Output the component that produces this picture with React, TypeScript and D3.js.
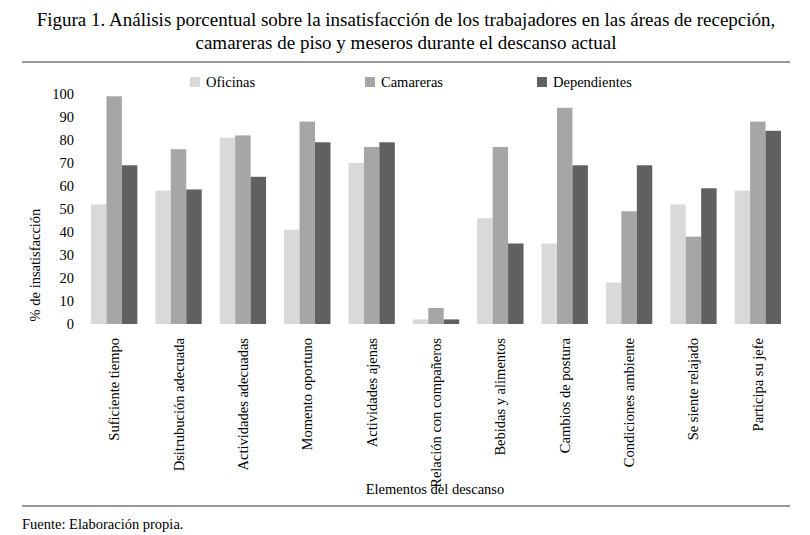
import React from 'react';
import * as d3 from 'd3';

const categories = ['Suficiente tiempo', 'Dsitrubución adecuada', 'Actividades adecuadas', 'Momento oportuno', 'Actividades ajenas', 'Relación con compañeros', 'Bebidas y alimentos', 'Cambios de postura', 'Condiciones ambiente', 'Se siente relajado', 'Participa su jefe'];
const seriesNames = ['Oficinas', 'Camareras', 'Dependientes'];
const oficinas = [52, 58, 81, 41, 70, 2, 46, 35, 18, 52, 58];
const camareras = [99, 76, 82, 88, 77, 7, 77, 94, 49, 38, 88];
const dependientes = [69, 58.5, 64, 79, 79, 2, 35, 69, 69, 59, 84];
const yTicks = [0, 10, 20, 30, 40, 50, 60, 70, 80, 90, 100];
const colors = ['#d9d9d9', '#a6a6a6', '#606060'];

export default function App() {
  const series = [oficinas, camareras, dependientes];
  const x = d3.scaleBand().domain(categories).range([82, 790]).paddingInner(0.28).paddingOuter(0.14);
  const xs = d3.scaleBand().domain(seriesNames).range([0, x.bandwidth()]);
  const y = d3.scaleLinear().domain([0, 100]).range([324, 94]);
  const font = '"Liberation Serif", "Times New Roman", serif';
  const fs = 14.5;
  const legendX = [190, 365, 537];
  return (
    <svg width={810} height={535} style={{ position: 'absolute', left: 0, top: 0, fontFamily: font }}>
      <rect width={810} height={535} fill="#fff" />
      <text x={406} y={26} textAnchor="middle" fontSize={19}>Figura 1. Análisis porcentual sobre la insatisfacción de los trabajadores en las áreas de recepción,</text>
      <text x={406} y={49} textAnchor="middle" fontSize={19}>camareras de piso y meseros durante el descanso actual</text>
      <line x1={22} x2={790} y1={62} y2={62} stroke="#333" />
      {seriesNames.map((s, i) => (
        <g key={s}>
          <rect x={legendX[i]} y={77} width={10} height={10} fill={colors[i]} />
          <text x={legendX[i] + 16} y={87} fontSize={fs}>{s}</text>
        </g>
      ))}
      {yTicks.map(t => (
        <text key={t} x={74} y={y(t) + 5} textAnchor="end" fontSize={fs}>{t}</text>
      ))}
      {categories.map((c, ci) => (
        <g key={c}>
          {series.map((vals, si) => (
            <rect key={si} x={(x(c) ?? 0) + (xs(seriesNames[si]) ?? 0)} y={y(vals[ci])} width={xs.bandwidth()} height={y(0) - y(vals[ci])} fill={colors[si]} />
          ))}
          <text transform={`translate(${(x(c) ?? 0) + x.bandwidth() / 2 + 5},338) rotate(-90)`} textAnchor="end" fontSize={fs}>{c}</text>
        </g>
      ))}
      <text transform="translate(40,265) rotate(-90)" textAnchor="middle" fontSize={fs}>% de insatisfacción</text>
      <text x={435} y={494} textAnchor="middle" fontSize={fs}>Elementos del descanso</text>
      <line x1={22} x2={790} y1={506} y2={506} stroke="#333" />
      <text x={22} y={529} fontSize={fs}>Fuente: Elaboración propia.</text>
    </svg>
  );
}
